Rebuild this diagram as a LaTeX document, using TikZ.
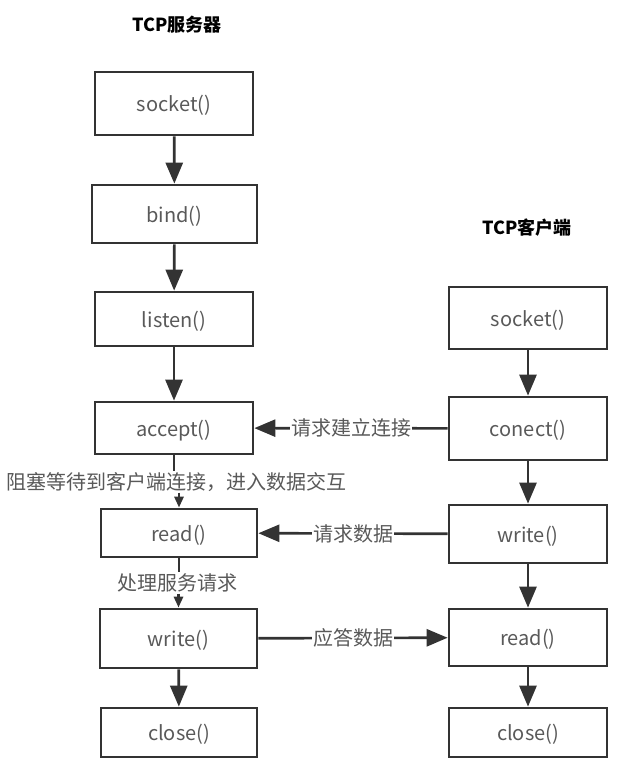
\documentclass[tikz,border=0pt]{standalone}
\usepackage{fontspec}
\setmainfont{Noto Sans CJK SC}
\usetikzlibrary{arrows.meta}
\definecolor{edge}{HTML}{333333}
\definecolor{txt}{HTML}{595959}

\begin{document}
\begin{tikzpicture}[x=1pt,y=-1pt,
 box/.style={draw=edge,line width=2.7pt,text=txt,minimum width=158pt,inner sep=0pt,text height=18pt,text depth=2pt,font=\fontsize{20}{24}\selectfont},
 lbl/.style={fill=white,text=txt,inner sep=1pt,text height=17pt,text depth=2pt,font=\fontsize{20}{24}\selectfont},
 link/.style={draw=edge,line width=2.7pt},
 big/.style={link,-{Triangle[length=21pt,width=17pt]}},
 small/.style={link,-{Triangle[length=11pt,width=9pt]}},
 title/.style={font=\fontsize{18}{22}\selectfont\bfseries}]
 \useasboundingbox (0,0) rectangle (626,782);
 \node[title] (stitle) at (177,25) {TCP服务器};
 \node[title] (ctitle) at (527,228) {TCP客户端};
 \node[box,minimum height=63pt] (ssocket) at (174,103.5) {socket()};
 \node[box,minimum height=58pt,minimum width=165pt] (bind) at (174.5,214) {bind()};
 \node[box,minimum height=54pt] (listen) at (174,319) {listen()};
 \node[box,minimum height=52pt] (accept) at (174,428) {accept()};
 \node[box,minimum height=48pt,minimum width=156pt] (sread) at (179,533) {read()};
 \node[box,minimum height=59pt,minimum width=157pt] (swrite) at (178.5,638.5) {write()};
 \node[box,minimum height=49pt,minimum width=156pt] (sclose) at (179,732.5) {close()};
 \node[box,minimum height=62pt] (csocket) at (528,318) {socket()};
 \node[box,minimum height=63pt] (conect) at (528,428.5) {conect()};
 \node[box,minimum height=58pt] (cwrite) at (528,534) {write()};
 \node[box,minimum height=57pt] (cread) at (528,637.5) {read()};
 \node[box,minimum height=49pt] (cclose) at (528,732.5) {close()};
 \node[lbl] (waitlbl) at (176,482) {阻塞等待到客户端连接，进入数据交互};
 \node[lbl] (handlbl) at (177.5,583) {处理服务请求};
 \draw[big] (ssocket) -- (bind);
 \draw[big] (bind) -- (listen);
 \draw[big] (listen) -- (accept);
 \draw[link] (accept.south) -- (accept.south |- waitlbl.north);
 \draw[small] (sread.north |- waitlbl.south) -- (sread.north);
 \draw[link] (sread.south) -- (sread.south |- handlbl.north);
 \draw[small] (swrite.north |- handlbl.south) -- (swrite.north);
 \draw[big] (swrite) -- (sclose);
 \draw[big] (csocket) -- (conect);
 \draw[big] (conect) -- (cwrite);
 \draw[big] (cwrite) -- (cread);
 \draw[big] (cread) -- (cclose);
 \draw[big] (conect) -- node[lbl] {请求建立连接} (accept);
 \draw[big] (cwrite) -- node[lbl] {请求数据} (sread);
 \draw[big] (swrite) -- node[lbl] {应答数据} (cread);
\end{tikzpicture}
\end{document}
